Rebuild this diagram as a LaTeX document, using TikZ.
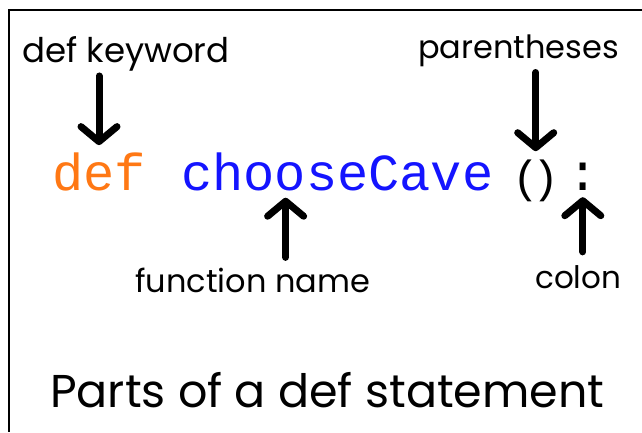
\documentclass[tikz,border=0pt]{standalone}
\usepackage{fontspec}
\setmainfont{Poppins}
\setmonofont{Liberation Mono}
\usetikzlibrary{arrows.meta, calc, positioning}
\definecolor{DefOrange}{RGB}{255,120,20}
\definecolor{NameBlue}{RGB}{20,20,255}

\begin{document}
\begin{tikzpicture}[x=1pt, y=-1pt,
    note/.style={inner sep=0pt, anchor=base west, font=\fontsize{#1}{#1}\selectfont},
    note/.default=34,
    code/.style={inner sep=0pt, anchor=base west, font=\fontsize{#1}{#1}\selectfont\ttfamily},
    code/.default=52,
    pen/.style={line width=7pt, line cap=round,
      -{Straight Barb[length=15pt, width=36pt, line width=7pt, round]}}]
    \useasboundingbox (0,0) rectangle (642,432);
    % frame, cut off at right and bottom
    \draw[line width=2.5pt] (642,10) -- (9,10) -- (9,432);

    \node[note] (kwlabel) at (22,62) {def keyword};
    \node[note=32] (parlabel) at (418,58) {parentheses};

    \node[code, text=DefOrange] (defcode) at (52,190) {def};
    \node[code, text=NameBlue] (name) at (181,190) {chooseCave};
    \node[code=45] (parens) at (512,192) {(\hspace{-7pt})};
    \node[code] (colon) at (567,190) {:};

    \node[note=32] (funclabel) at (135,292) {function name};
    \node[note=31] (colonlabel) at (535,288) {colon};

    \node[note=46] (title) at (50,407) {Parts of a def statement};

    \draw[pen, shorten <=5pt, shorten >=7pt] (kwlabel.south -| defcode.north) -- (defcode.north);
    \draw[pen, shorten <=6pt, shorten >=8pt] (parlabel.south -| parens.north) -- (parens.north);
    \draw[pen, shorten <=10pt, shorten >=7pt] ([xshift=33pt]funclabel.north) -- ([xshift=33pt]funclabel.north |- name.south);
    \draw[pen, shorten <=13pt, shorten >=7pt] (colonlabel.north -| colon.south) -- (colon.south);
\end{tikzpicture}
\end{document}
